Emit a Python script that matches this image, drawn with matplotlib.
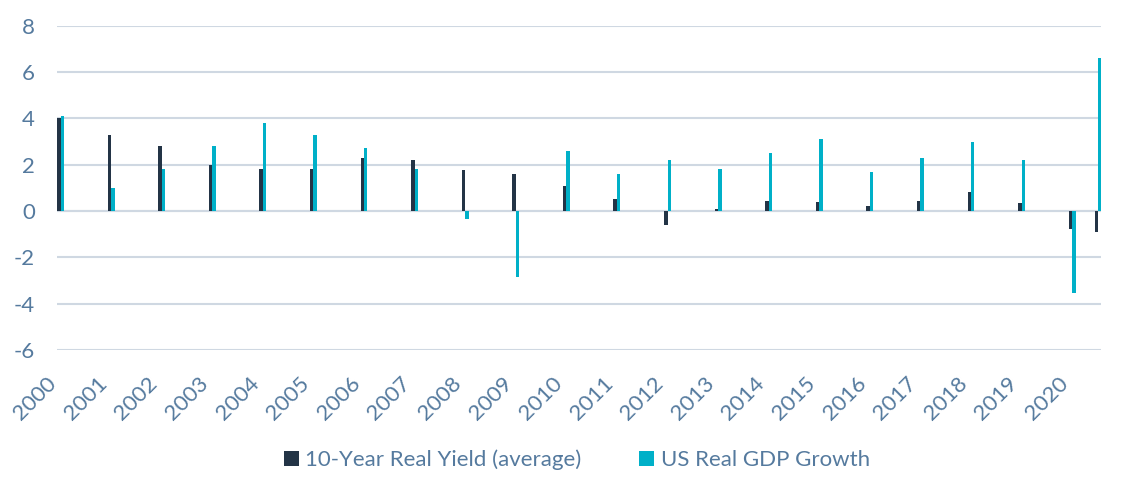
import matplotlib
matplotlib.use('Agg')
import matplotlib.pyplot as plt
import matplotlib.transforms as mtransforms
import numpy as np

# data (last point sits half a year after 2020, unlabeled)
positions = [2000, 2001, 2002, 2003, 2004, 2005, 2006, 2007, 2008, 2009, 2010,
             2011, 2012, 2013, 2014, 2015, 2016, 2017, 2018, 2019, 2020, 2020.52]
tick_years = list(range(2000, 2021))
real_yield = [4.0, 3.3, 2.8, 2.0, 1.8, 1.8, 2.3, 2.2, 1.77, 1.6, 1.08,
              0.53, -0.59, 0.1, 0.44, 0.39, 0.22, 0.43, 0.82, 0.35, -0.78, -0.9]
gdp_growth = [4.1, 1.0, 1.8, 2.8, 3.8, 3.3, 2.7, 1.8, -0.35, -2.85, 2.6,
              1.6, 2.2, 1.8, 2.5, 3.1, 1.7, 2.3, 3.0, 2.2, -3.55, 6.6]

dark = '#233446'
teal = '#00B0C8'
text_col = '#557A9E'
grid_col = '#CFD8E2'

plt.rcParams['font.family'] = ['Lato', 'DejaVu Sans']
plt.rcParams['axes.unicode_minus'] = False

fig = plt.figure(figsize=(11.43, 4.93), dpi=100)
ax = fig.add_axes([57 / 1143, 1 - 350 / 493, (1101 - 57) / 1143, (350 - 25.7) / 493])

x = np.array(positions)
w = 0.068
ax.bar(x - w / 2, real_yield, width=w, color=dark, label='10-Year Real Yield (average)', zorder=3)
ax.bar(x + w / 2, gdp_growth, width=w, color=teal, label='US Real GDP Growth', zorder=3)

ax.set_xlim(1999.93, 2020.57)
ax.set_ylim(-6, 8)
ax.set_yticks(range(-6, 9, 2))
ax.set_xticks(tick_years)
ax.set_xticklabels([str(y) for y in tick_years], rotation=45, ha='right', va='top')
shift = mtransforms.ScaledTranslation(4 / 100, 0, fig.dpi_scale_trans)
for lab in ax.get_xticklabels():
    lab.set_transform(lab.get_transform() + shift)

ax.yaxis.grid(True, color=grid_col, linewidth=1.5, zorder=0)
ax.axhline(0, color=grid_col, linewidth=1.5, zorder=1)
for s in ax.spines.values():
    s.set_visible(False)
ax.tick_params(axis='both', length=0, colors=text_col, labelsize=16)
ax.tick_params(axis='y', pad=16)
ax.tick_params(axis='x', pad=17)

fig.legend(loc='center', bbox_to_anchor=(577 / 1143, 1 - 460 / 493), ncol=2, frameon=False,
           fontsize=16, labelcolor=text_col, handlelength=0.65, handleheight=0.65,
           handletextpad=0.3, columnspacing=2.6)

fig.savefig('out.png', dpi=100)
